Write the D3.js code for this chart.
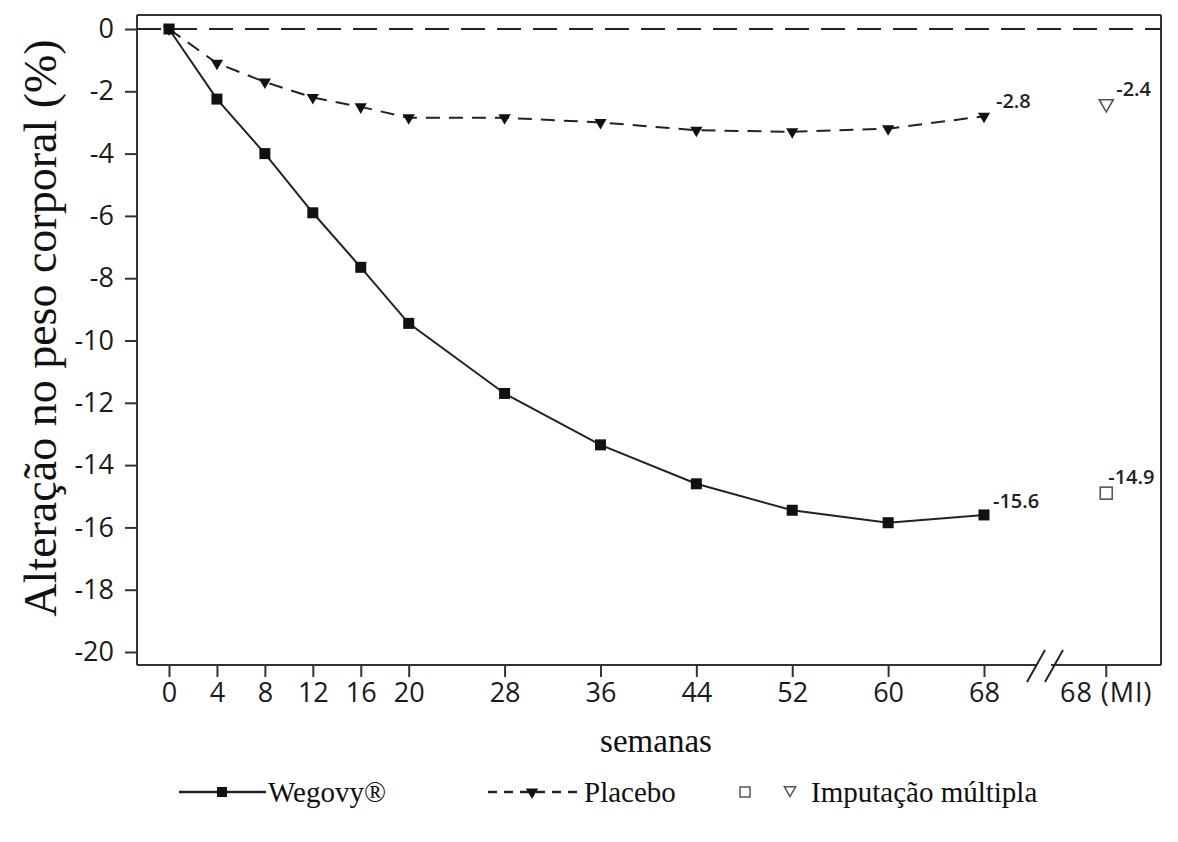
<!DOCTYPE html>
<html lang="pt">
<head>
  <meta charset="UTF-8">
  <script src="https://cdn.jsdelivr.net/npm/d3@7"></script>
  <title>Alteração no peso corporal</title>
  <style>
    body { margin: 0; background: #fff; }
    .tick text { font-family: 'Open Sans', sans-serif; font-size: 27px; fill: #1a1a1a; }
    .tick line, .domain { stroke: #333; stroke-width: 2; }
    .serif { font-family: 'Liberation Serif', 'Times New Roman', serif; fill: #111; }
    .note { font-family: 'Open Sans', sans-serif; font-size: 20px; font-weight: 600; fill: #222; }
  </style>
</head>
<body>
<script>
  // data
  const weeks = [0, 4, 8, 12, 16, 20, 28, 36, 44, 52, 60, 68];
  const wegovy = [0, -2.25, -4.0, -5.9, -7.65, -9.45, -11.7, -13.35, -14.6, -15.45, -15.85, -15.6];
  const placebo = [0, -1.1, -1.7, -2.2, -2.5, -2.85, -2.85, -3.0, -3.25, -3.3, -3.2, -2.8];
  const miValues = { wegovy: -14.9, placebo: -2.4 };
  const endLabels = { wegovy: '-15.6', placebo: '-2.8' };
  const miLabels = { wegovy: '-14.9', placebo: '-2.4' };
  const yTicks = d3.range(0, -21, -2);
  const miPos = 78.2; // where the "68 (MI)" column sits after the axis break

  const width = 1178, height = 842;
  const pLeft = 137, pRight = 1161, pTop = 15, pBottom = 665;

  const svg = d3.select('body').append('svg').attr('width', width).attr('height', height);

  const x = d3.scaleLinear().domain([0, 68]).range([169, 984]);
  const y = d3.scaleLinear().domain([0, -20]).range([29, 652]);

  // frame
  svg.append('line').attr('x1', pLeft).attr('x2', pRight).attr('y1', pTop).attr('y2', pTop)
    .attr('stroke', '#333').attr('stroke-width', 2);
  svg.append('line').attr('x1', pRight).attr('x2', pRight).attr('y1', pTop).attr('y2', pBottom)
    .attr('stroke', '#333').attr('stroke-width', 2);
  svg.append('line').attr('x1', pLeft).attr('x2', pLeft).attr('y1', pTop).attr('y2', pBottom)
    .attr('stroke', '#333').attr('stroke-width', 2);

  // y axis
  const axisY = d3.axisLeft(y).tickValues(yTicks).tickFormat(d => String(d))
    .tickSize(12).tickPadding(11).tickSizeOuter(0);
  const gy = svg.append('g').attr('transform', `translate(${pLeft},0)`).call(axisY);
  gy.select('.domain').remove();

  // x axis (with break)
  const axisX = d3.axisBottom(x).tickValues(weeks).tickSize(12).tickPadding(6).tickSizeOuter(0);
  const gx = svg.append('g').attr('transform', `translate(0,${pBottom})`).call(axisX);
  gx.select('.domain').remove();
  svg.append('line').attr('x1', pLeft).attr('x2', 1037).attr('y1', pBottom).attr('y2', pBottom)
    .attr('stroke', '#333').attr('stroke-width', 2);
  svg.append('line').attr('x1', 1051).attr('x2', pRight).attr('y1', pBottom).attr('y2', pBottom)
    .attr('stroke', '#333').attr('stroke-width', 2);
  // break marks
  [[1027, 1045], [1045, 1063]].forEach(([a, b]) => {
    svg.append('line').attr('x1', a).attr('y1', 682).attr('x2', b).attr('y2', 650)
      .attr('stroke', '#222').attr('stroke-width', 2);
  });
  const miTick = svg.append('g').attr('class', 'tick').attr('transform', `translate(${x(miPos)},${pBottom})`);
  miTick.append('line').attr('y2', 12);
  miTick.append('text').attr('y', 18).attr('dy', '0.71em').attr('text-anchor', 'middle')
    .attr('letter-spacing', 1).text('68 (MI)');

  // zero reference line
  svg.append('line').attr('x1', pLeft).attr('x2', pRight).attr('y1', y(0)).attr('y2', y(0))
    .attr('stroke', '#222').attr('stroke-width', 2).attr('stroke-dasharray', '24 12');

  const line = d3.line().x((d, i) => x(weeks[i])).y(d => y(d));

  // placebo
  svg.append('path').datum(placebo).attr('d', line).attr('fill', 'none')
    .attr('stroke', '#222').attr('stroke-width', 2).attr('stroke-dasharray', '14 9');
  const tri = d3.symbol().type(d3.symbolTriangle).size(65);
  svg.selectAll('.pl').data(placebo).enter().append('path')
    .attr('d', tri).attr('fill', '#111')
    .attr('transform', (d, i) => `translate(${x(weeks[i])},${y(d)}) rotate(180)`);

  // wegovy
  svg.append('path').datum(wegovy).attr('d', line).attr('fill', 'none')
    .attr('stroke', '#222').attr('stroke-width', 2);
  svg.selectAll('.wg').data(wegovy).enter().append('rect')
    .attr('x', (d, i) => x(weeks[i]) - 5.5).attr('y', d => y(d) - 5.5)
    .attr('width', 11).attr('height', 11).attr('fill', '#111');

  // multiple imputation markers
  svg.append('rect').attr('x', x(miPos) - 6).attr('y', y(miValues.wegovy) - 6)
    .attr('width', 12).attr('height', 12).attr('fill', 'none').attr('stroke', '#555').attr('stroke-width', 1.6);
  svg.append('path').attr('d', d3.symbol().type(d3.symbolTriangle).size(85))
    .attr('transform', `translate(${x(miPos)},${y(miValues.placebo)}) rotate(180)`)
    .attr('fill', 'none').attr('stroke', '#555').attr('stroke-width', 1.6);

  // value labels
  const last = weeks.length - 1;
  svg.append('text').attr('class', 'note').attr('x', x(68) + 9).attr('y', y(wegovy[last]) - 7).text(endLabels.wegovy);
  svg.append('text').attr('class', 'note').attr('x', x(68) + 12).attr('y', y(placebo[last]) - 8).text(endLabels.placebo);
  svg.append('text').attr('class', 'note').attr('x', x(miPos) + 2).attr('y', y(miValues.wegovy) - 9).text(miLabels.wegovy);
  svg.append('text').attr('class', 'note').attr('x', x(miPos) + 10).attr('y', y(miValues.placebo) - 8).text(miLabels.placebo);

  // axis titles
  svg.append('text').attr('class', 'serif').attr('font-size', 46)
    .attr('text-anchor', 'middle').attr('transform', `translate(56,${328}) rotate(-90)`)
    .text('Alteração no peso corporal (%)');
  svg.append('text').attr('class', 'serif').attr('font-size', 33)
    .attr('text-anchor', 'middle').attr('x', 656).attr('y', 752).text('semanas');

  // legend
  const ly = 792;
  const lg = svg.append('g');
  lg.append('line').attr('x1', 179).attr('x2', 266).attr('y1', ly).attr('y2', ly).attr('stroke', '#222').attr('stroke-width', 2.5);
  lg.append('rect').attr('x', 217).attr('y', ly - 5).attr('width', 10).attr('height', 10).attr('fill', '#111');
  lg.append('text').attr('class', 'serif').attr('font-size', 29).attr('x', 268).attr('y', ly + 10).text('Wegovy®');

  lg.append('line').attr('x1', 488).attr('x2', 578).attr('y1', ly).attr('y2', ly).attr('stroke', '#222')
    .attr('stroke-width', 2.5).attr('stroke-dasharray', '9 7');
  lg.append('path').attr('d', tri).attr('fill', '#111').attr('transform', `translate(532,${ly}) rotate(180)`);
  lg.append('text').attr('class', 'serif').attr('font-size', 29).attr('x', 584).attr('y', ly + 10).text('Placebo');

  lg.append('rect').attr('x', 740).attr('y', ly - 5).attr('width', 10).attr('height', 10)
    .attr('fill', 'none').attr('stroke', '#555').attr('stroke-width', 1.5);
  lg.append('path').attr('d', d3.symbol().type(d3.symbolTriangle).size(55))
    .attr('transform', `translate(790,${ly - 2}) rotate(180)`)
    .attr('fill', 'none').attr('stroke', '#555').attr('stroke-width', 1.5);
  lg.append('text').attr('class', 'serif').attr('font-size', 29).attr('x', 811).attr('y', ly + 10).text('Imputação múltipla');
</script>
</body>
</html>
